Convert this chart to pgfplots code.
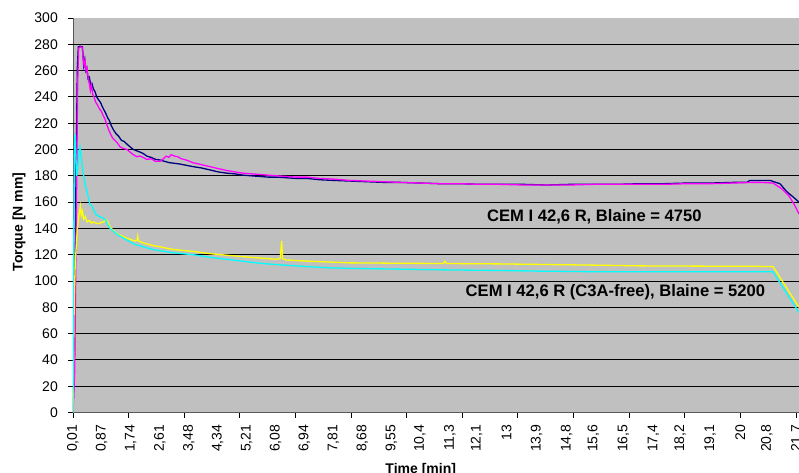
\documentclass[border=0pt]{standalone}
\usepackage{pgfplots}
\pgfplotsset{compat=1.18}
\usepackage{fontspec}
\setmainfont{Liberation Sans}
\definecolor{bggray}{HTML}{C0C0C0}
\definecolor{navyline}{HTML}{000080}
\definecolor{magline}{HTML}{FF00FF}
\definecolor{cyanline}{HTML}{00FFFF}
\definecolor{yelline}{HTML}{FFFF00}

\begin{document}
\begin{tikzpicture}
\useasboundingbox (-73bp,-60.5bp) rectangle (726bp,412.5bp);
\begin{axis}[
    scale only axis,
    width=726bp, height=394.5bp,
    xmin=0.01, xmax=21.76, ymin=0, ymax=300,
    axis lines*=left,
    axis line style={draw=gray!70!black, line width=0.9bp},
    axis background/.style={fill=bggray},
    tick align=outside,
    major tick length=5bp,
    tick style={black, line width=0.8bp},
    /pgf/number format/assume math mode=true,
    ytick={0,20,...,300},
    yticklabel style={font=\fontsize{14bp}{16bp}\selectfont, inner sep=0pt},
    yticklabel shift=10bp,
    xtick={0.01,1.676,3.342,5.008,6.674,8.340,10.006,11.672,13.338,15.004,16.670,18.336,20.002,21.668},
    xticklabels={},
    extra x ticks={0.01,0.87,1.74,2.61,3.48,4.34,5.21,6.08,6.94,7.81,8.68,9.55,10.4,11.3,12.1,13,13.9,14.8,15.6,16.5,17.4,18.2,19.1,20,20.8,21.7},
    extra x tick labels={{0,01},{0,87},{1,74},{2,61},{3,48},{4,34},{5,21},{6,08},{6,94},{7,81},{8,68},{9,55},{10,4},{11,3},{12,1},{13},{13,9},{14,8},{15,6},{16,5},{17,4},{18,2},{19,1},{20},{20,8},{21,7}},
    extra x tick style={major tick length=0pt,
        xticklabel style={font=\fontsize{14bp}{16bp}\selectfont, rotate=90, anchor=east, inner sep=0pt},
        xticklabel shift=12bp},
    extra y ticks={20,40,...,280},
    extra y tick labels={},
    extra y tick style={grid=major, major tick length=0pt},
    grid style={black, line width=0.9bp},
    xlabel={Time [min]},
    xlabel style={font=\bfseries\fontsize{14bp}{16bp}\selectfont, at={(axis description cs:0.479,-0.1534)}, anchor=base},
    ylabel={Torque [N mm]},
    ylabel style={font=\bfseries\fontsize{14bp}{16bp}\selectfont, at={(axis description cs:-0.0744,0.483)}, anchor=center},
    every axis plot/.append style={line width=1.3bp},
]
% CEM I 42,6 R, Blaine 4750 (two runs)
\addplot[navyline] coordinates {
(0.01,0) (0.05,40) (0.10,180) (0.14,262) (0.17,278) (0.22,278.5) (0.29,278) (0.31,272) (0.33,264) (0.36,268) (0.39,260) (0.42,262) (0.46,254) (0.50,255) (0.54,249) (0.58,250) (0.62,246) (0.67,244) (0.72,240) (0.77,238) (0.83,236) (0.88,233) (0.94,230) (1.00,227) (1.05,224) (1.10,222) (1.16,218) (1.22,215) (1.30,212) (1.38,210) (1.46,207) (1.55,206) (1.63,204) (1.72,202) (1.82,200) (1.92,199) (2.02,198) (2.11,197) (2.22,195) (2.35,194) (2.48,192.5) (2.62,192) (2.75,191) (2.90,190) (3.05,189.5) (3.20,189) (3.40,188) (3.60,187) (3.85,186) (4.11,184.5) (4.35,183) (4.62,182) (4.85,181.5) (5.10,180.5) (5.35,180) (5.61,179.5) (5.85,179) (6.12,179) (6.40,178.5) (6.70,178) (7.02,178) (7.40,177) (7.80,176.5) (8.30,176) (8.80,175.5) (9.30,175) (9.80,175) (10.40,174.5) (11.00,174) (11.60,174) (12.20,173.5) (12.80,173.5) (13.50,173.5) (14.20,173) (14.90,173.5) (15.60,173.5) (16.30,173.5) (17.00,174) (17.70,174) (18.40,174.5) (19.10,174.5) (19.80,175) (20.20,175) (20.29,176.5) (20.60,176.5) (20.90,176.5) (21.00,175.5) (21.19,174) (21.39,168) (21.58,164) (21.76,160)
};
\addplot[magline] coordinates {
(0.01,0) (0.06,30) (0.11,150) (0.15,250) (0.18,277) (0.23,278) (0.29,277.5) (0.31,270) (0.34,264) (0.37,268) (0.40,260) (0.43,262) (0.47,253) (0.50,250) (0.53,245) (0.56,249) (0.60,242) (0.64,240) (0.69,236) (0.74,234) (0.80,231) (0.86,229) (0.91,226) (0.97,223) (1.02,219) (1.08,215) (1.13,212) (1.19,209) (1.26,207) (1.34,205) (1.42,202) (1.50,201) (1.63,200) (1.72,198) (1.82,196) (1.92,194.5) (2.02,195) (2.11,194) (2.22,192.5) (2.35,193) (2.48,191) (2.62,191) (2.72,193) (2.80,195) (2.88,194) (2.95,196) (3.05,195) (3.15,194.5) (3.25,193) (3.40,192) (3.60,190) (3.85,188.5) (4.11,187) (4.35,185.5) (4.62,184) (4.85,183) (5.10,182) (5.35,181.5) (5.61,181) (5.85,180.5) (6.12,180) (6.40,179.5) (6.70,179) (7.02,179) (7.40,178) (7.80,177.5) (8.30,176.5) (8.80,176) (9.30,175.5) (9.80,175) (10.40,174.5) (11.00,174) (11.60,174) (12.20,173.5) (12.80,173.5) (13.50,173) (14.20,173) (14.90,173) (15.60,173.5) (16.30,173.5) (17.00,173.5) (17.70,173.5) (18.40,174) (19.10,174) (19.80,174.5) (20.29,175) (20.60,175) (20.98,174.5) (21.25,170) (21.45,165) (21.60,159) (21.76,151)
};
% CEM I 42,6 R (C3A-free), Blaine 5200 (two runs)
\addplot[yelline] coordinates {
(0.01,0) (0.05,90) (0.08,115) (0.14,140) (0.20,152) (0.23,157) (0.26,150) (0.29,153) (0.33,147) (0.38,149) (0.43,145) (0.50,146) (0.56,144) (0.62,145) (0.70,144) (0.78,143.5) (0.85,144.5) (0.92,145) (1.00,146.5) (1.05,145) (1.12,141) (1.21,138.6) (1.35,135.5) (1.50,134) (1.63,132.5) (1.85,130.5) (1.93,131) (1.95,134) (1.97,130.5) (2.11,129) (2.40,127) (2.62,126) (3.00,124) (3.61,122.5) (4.11,120.8) (4.62,119.6) (5.10,118.5) (5.61,117.5) (6.10,116.5) (6.22,117) (6.26,130.5) (6.29,117) (6.40,116) (7.11,115) (8.31,113.8) (9.80,113.5) (11.10,113.3) (11.15,115) (11.20,113.3) (12.80,113) (14.30,112.5) (15.80,112) (17.00,111.5) (18.80,111.3) (20.29,111.2) (20.98,111) (21.76,80)
};
\addplot[cyanline] coordinates {
(0.01,0) (0.03,120) (0.05,195) (0.07,212) (0.09,200) (0.12,180) (0.15,185) (0.19,198) (0.22,202) (0.25,196) (0.30,185) (0.37,174) (0.45,166) (0.52,158) (0.58,157) (0.61,155) (0.67,152) (0.72,150) (0.80,149) (0.90,148) (1.00,146) (1.05,143) (1.12,140) (1.21,138) (1.35,135) (1.50,133) (1.63,131) (1.85,128) (2.11,126) (2.40,124) (2.62,123) (3.00,121.5) (3.61,120) (4.11,118) (4.62,116.5) (5.10,115) (5.61,113.5) (6.10,112.5) (7.11,110.8) (7.70,110) (8.50,109.5) (9.81,109) (11.00,108.5) (12.80,108) (14.00,107.5) (15.80,107) (17.00,107) (18.80,107) (20.29,107) (20.98,107) (21.76,76)
};
\node[font=\bfseries\fontsize{16.6bp}{19bp}\selectfont, anchor=base] at (axis cs:15.63,145.4) {CEM I 42,6 R, Blaine = 4750};
\node[font=\bfseries\fontsize{16.6bp}{19bp}\selectfont, anchor=base] at (axis cs:16.26,88.5) {CEM I 42,6 R (C3A-free), Blaine = 5200};
\end{axis}
\end{tikzpicture}
\end{document}
